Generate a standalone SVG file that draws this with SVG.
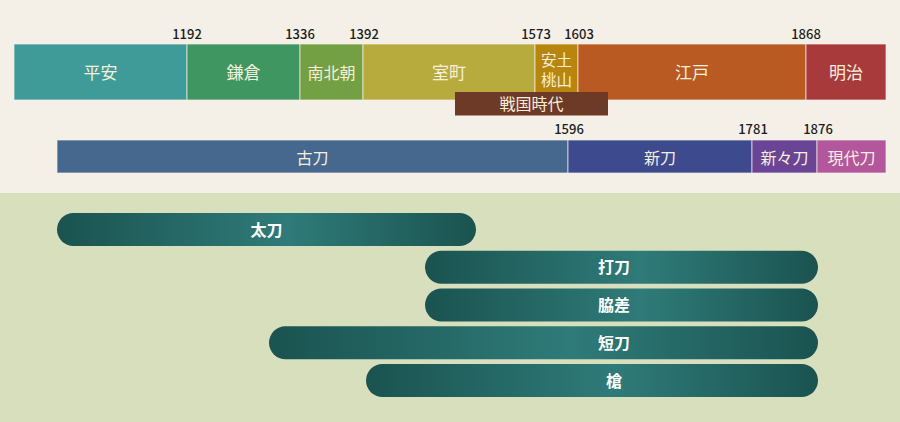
<svg xmlns="http://www.w3.org/2000/svg" width="900" height="422" viewBox="0 0 900 422">
<style>
.seg{stroke:#f6f1e6;stroke-opacity:0.7;stroke-width:1}
.lbl{font-family:"Noto Sans CJK JP","Noto Sans",sans-serif;font-size:17px;fill:#f6efdc;text-anchor:middle}
.lbl2{font-family:"Noto Sans CJK JP","Noto Sans",sans-serif;font-size:16px;fill:#f6efdc;text-anchor:middle}
.yr{font-family:"Noto Sans CJK JP","Noto Sans",sans-serif;font-size:13px;font-weight:500;fill:#1c1c1c;text-anchor:middle}
.pill{fill:url(#pg)}
.pl{font-family:"Noto Sans CJK JP","Noto Sans",sans-serif;font-size:16px;font-weight:700;fill:#ffffff;text-anchor:middle}
</style>
<defs>
<linearGradient id="pg" x1="0" y1="0" x2="1" y2="0">
<stop offset="0" stop-color="#1a5350"/>
<stop offset="0.55" stop-color="#2f7b79"/>
<stop offset="1" stop-color="#1a5350"/>
</linearGradient>
</defs>
<rect x="0" y="0" width="900" height="193" fill="#f4f0e8"/>
<rect x="0" y="193" width="900" height="229" fill="#d8dfbd"/>

<g id="eras">
<g id="heian"><rect class="seg" x="14" y="44" width="173" height="56" fill="#3f9b97"/><text class="lbl" x="100.5" y="79">平安</text></g>
<g id="kamakura"><rect class="seg" x="187" y="44" width="113" height="56" fill="#3f9660"/><text class="lbl" x="243.5" y="79">鎌倉</text></g>
<g id="nanbokucho"><rect class="seg" x="300" y="44" width="63" height="56" fill="#73a043"/><text class="lbl2" x="331.5" y="79">南北朝</text></g>
<g id="muromachi"><rect class="seg" x="363" y="44" width="172" height="56" fill="#b8ab3e"/><text class="lbl" x="449" y="79">室町</text></g>
<g id="azuchimomoyama"><rect class="seg" x="535" y="44" width="43" height="56" fill="#b8860f"/><text class="lbl2" x="556.5" y="65.5" style="font-size:15.5px">安土</text><text class="lbl2" x="556.5" y="86" style="font-size:15.5px">桃山</text></g>
<g id="edo"><rect class="seg" x="578" y="44" width="228" height="56" fill="#b85a22"/><text class="lbl" x="692" y="79">江戸</text></g>
<g id="meiji"><rect class="seg" x="806" y="44" width="80" height="56" fill="#a93a3b"/><text class="lbl" x="846" y="79">明治</text></g>
<g id="sengoku"><rect x="455" y="92" width="153" height="23.5" fill="#6e3a28"/><text class="lbl2" x="531.5" y="110">戦国時代</text></g>
</g>

<g id="era-years">
<text class="yr" x="187" y="39">1192</text>
<text class="yr" x="300" y="39">1336</text>
<text class="yr" x="364" y="39">1392</text>
<text class="yr" x="536" y="39">1573</text>
<text class="yr" x="579" y="39">1603</text>
<text class="yr" x="806" y="39">1868</text>
</g>

<g id="swords-eras">
<g id="koto"><rect class="seg" x="57" y="140" width="511" height="33" fill="#46688e"/><text class="lbl2" x="312.5" y="164">古刀</text></g>
<g id="shinto"><rect class="seg" x="568" y="140" width="184" height="33" fill="#3d4a8e"/><text class="lbl2" x="660" y="164">新刀</text></g>
<g id="shinshinto"><rect class="seg" x="752" y="140" width="65" height="33" fill="#6a4596"/><text class="lbl2" x="784.5" y="164">新々刀</text></g>
<g id="gendaito"><rect class="seg" x="817" y="140" width="69" height="33" fill="#b4569c"/><text class="lbl2" x="851.5" y="164">現代刀</text></g>
</g>

<g id="sword-years">
<text class="yr" x="569" y="134">1596</text>
<text class="yr" x="753" y="134">1781</text>
<text class="yr" x="818" y="134">1876</text>
</g>

<g id="tachi"><rect class="pill" x="57" y="213" width="419" height="33" rx="16.5"/><text class="pl" x="266.5" y="235.5">太刀</text></g>
<g id="uchigatana"><rect class="pill" x="425" y="250.75" width="393" height="33" rx="16.5"/><text class="pl" x="614" y="273.25">打刀</text></g>
<g id="wakizashi"><rect class="pill" x="425" y="288.5" width="393" height="33" rx="16.5"/><text class="pl" x="614" y="311">脇差</text></g>
<g id="tanto"><rect class="pill" x="269" y="326.25" width="549" height="33" rx="16.5"/><text class="pl" x="614" y="348.75">短刀</text></g>
<g id="yari"><rect class="pill" x="366" y="364" width="452" height="33" rx="16.5"/><text class="pl" x="614" y="386.5">槍</text></g>
</svg>
